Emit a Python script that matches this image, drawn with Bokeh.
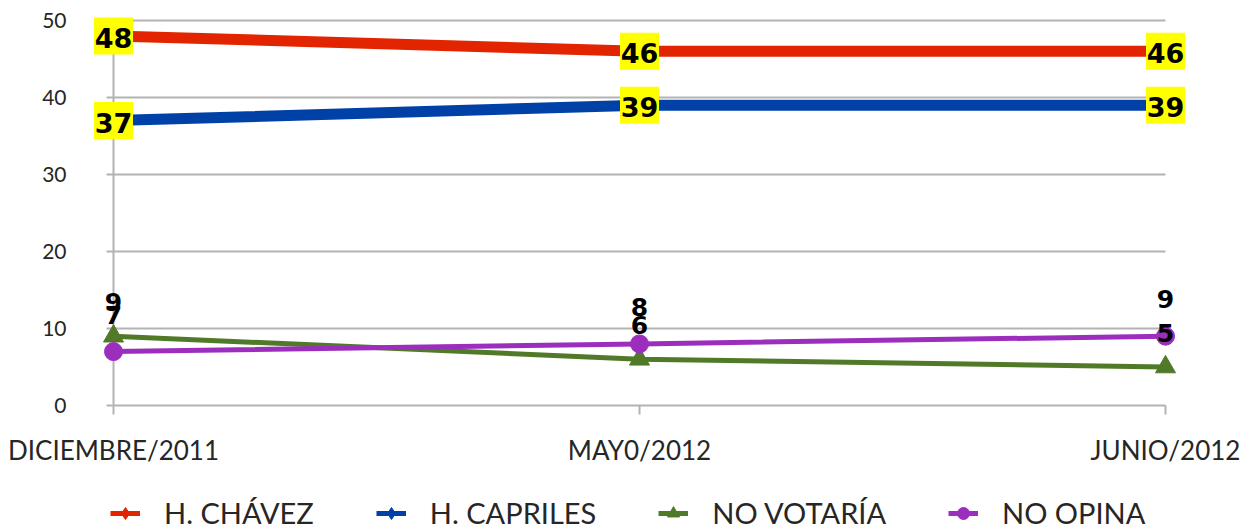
import math
from bokeh.plotting import figure
from bokeh.models import Range1d, Legend, LegendItem
from bokeh.core.properties import value
from bokeh.embed import file_html
from bokeh.resources import INLINE

categories = ["DICIEMBRE/2011", "MAY0/2012", "JUNIO/2012"]
chavez = [48, 46, 46]
capriles = [37, 39, 39]
no_votaria = [9, 6, 5]
no_opina = [7, 8, 9]
y_ticks = [0, 10, 20, 30, 40, 50]

xs = list(range(len(categories)))
xmax = len(categories) - 1
ymin, ymax = y_ticks[0], y_ticks[-1]

RED = "#E32400"
BLUE = "#0041A8"
GREEN = "#507A28"
PURPLE = "#9C2EBE"
GRID = "#B3B3B3"
AXFONT = "Lato"
LBLFONT = "DejaVu Sans"
TXT = "#262626"

W, H = 1250, 531
# frame = whole canvas; ranges chosen so the category span sits at 113..1165 px
# and the value span 0..50 at 405..20 px
PX_X = (1165 - 113) / xmax
PX_Y = (405 - 20) / (ymax - ymin)
x_range = Range1d(-113 / PX_X, xmax + (W - 1165) / PX_X)
y_range = Range1d(ymin - (H - 405) / PX_Y, ymax + 20 / PX_Y)

p = figure(width=W, height=H, output_backend="svg", toolbar_location=None,
           x_range=x_range, y_range=y_range, x_axis_type=None, y_axis_type=None,
           min_border=0)
p.outline_line_color = None
p.grid.visible = False

n = len(y_ticks)
# gridlines across category span
p.segment(x0=[0] * n, y0=y_ticks, x1=[xmax] * n, y1=y_ticks, line_color=GRID, line_width=2)
# value axis line
p.segment(x0=[0], y0=[ymin], x1=[0], y1=[ymax], line_color=GRID, line_width=2)
# ticks
p.ray(x=[0] * n, y=y_ticks, length=7, length_units="screen", angle=math.pi,
      line_color=GRID, line_width=2)
p.ray(x=xs, y=[ymin] * len(xs), length=9, length_units="screen", angle=-math.pi / 2,
      line_color=GRID, line_width=2)
# tick labels
p.text(x=[0] * n, y=y_ticks, text=[str(t) for t in y_ticks], x_offset=-47,
       text_align="right", text_baseline="middle", text_font=value(AXFONT),
       text_font_size="21px", text_color=TXT)
p.text(x=xs, y=[ymin] * len(xs), text=categories, y_offset=44, text_align="center",
       text_baseline="middle", text_font=value(AXFONT), text_font_size="26px",
       text_color=TXT)

# series (thin lines under the thick ones serve as legend glyphs)
leg_red = p.line(xs, chavez, line_color=RED, line_width=5)
leg_blue = p.line(xs, capriles, line_color=BLUE, line_width=5)
p.line(xs, chavez, line_color=RED, line_width=11)
s1 = p.scatter(xs, chavez, marker="diamond", size=20, color=RED)
p.line(xs, capriles, line_color=BLUE, line_width=11)
s2 = p.scatter(xs, capriles, marker="diamond", size=20, color=BLUE)
l3 = p.line(xs, no_votaria, line_color=GREEN, line_width=5)
s3 = p.scatter(xs, no_votaria, marker="triangle", size=20, color=GREEN)
l4 = p.line(xs, no_opina, line_color=PURPLE, line_width=5)
s4 = p.scatter(xs, no_opina, marker="circle", size=18, color=PURPLE)

# yellow-boxed labels
for ys in (chavez, capriles):
    p.rect(xs, ys, width=39, height=37, width_units="screen", height_units="screen",
           fill_color="#FFFF00", line_color=None)
    p.text(xs, ys, text=[str(v) for v in ys], text_align="center", text_baseline="middle",
           text_font=value(LBLFONT), text_font_style="bold", text_font_size="27px",
           text_color="black", y_offset=2)

p.text(xs, no_votaria, text=[str(v) for v in no_votaria], text_align="center",
       text_baseline="middle", text_font=value(LBLFONT), text_font_style="bold",
       text_font_size="25px", text_color="black", y_offset=-34)
p.text(xs, no_opina, text=[str(v) for v in no_opina], text_align="center",
       text_baseline="middle", text_font=value(LBLFONT), text_font_style="bold",
       text_font_size="25px", text_color="black", y_offset=-37)

legend = Legend(items=[
    LegendItem(label="H. CHÁVEZ", renderers=[leg_red, s1]),
    LegendItem(label="H. CAPRILES", renderers=[leg_blue, s2]),
    LegendItem(label="NO VOTARÍA", renderers=[l3, s3]),
    LegendItem(label="NO OPINA", renderers=[l4, s4]),
], orientation="horizontal", location=(110, 1))
legend.border_line_color = None
legend.background_fill_alpha = 0
legend.label_text_font = AXFONT
legend.label_text_font_size = "29px"
legend.label_text_color = TXT
legend.glyph_width = 30
legend.glyph_height = 30
legend.label_standoff = 24
legend.spacing = 62
legend.margin = 0
legend.padding = 0
p.add_layout(legend, "center")

open("out.html", "w").write(file_html(p, INLINE))
